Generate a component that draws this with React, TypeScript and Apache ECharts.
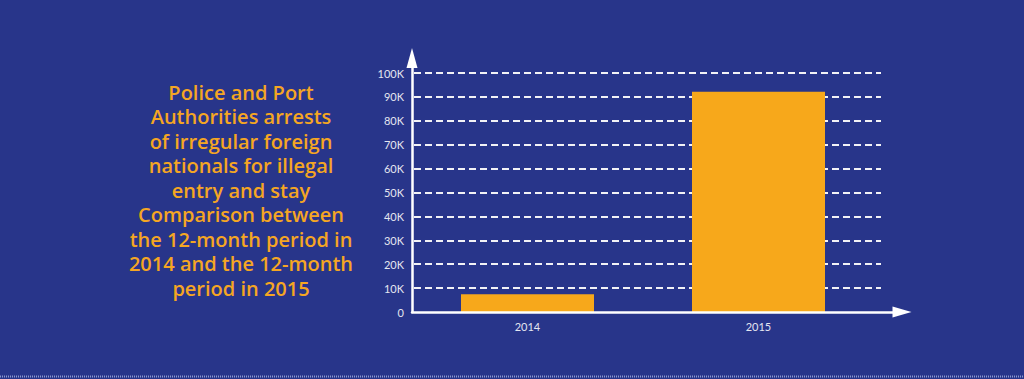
import React, { useEffect, useRef } from "react";
import * as echarts from "echarts";

const categories = ["2014", "2015"];
const arrests = [7400, 92200];
const yTickStep = 10000;
const yAxisTop = 106300;
const titleLines = [
  "Police and Port",
  "Authorities arrests",
  "of irregular foreign",
  "nationals for illegal",
  "entry and stay",
  "Comparison between",
  "the 12-month period in",
  "2014 and the 12-month",
  "period in 2015",
];

const BG = "#28358a";
const ORANGE = "#f7a81b";
const WHITE = "#ffffff";
const LABEL = "#e4e6f0";

export default function App() {
  const ref = useRef<HTMLDivElement>(null);
  useEffect(() => {
    document.body.style.margin = "0";
    const chart = echarts.init(ref.current!, null, { renderer: "svg" });
    const fmt = (v: number) => (v === 0 ? "0" : v / 1000 + "K");
    chart.setOption({
      animation: false,
      backgroundColor: BG,
      grid: [
        { left: 412, right: 122, top: 58, bottom: 67 },
        { left: 414, right: 143, top: 58, bottom: 67 },
        { left: 412, right: 150, top: 58, bottom: 67 },
      ],
      xAxis: [
        {
          gridIndex: 0,
          type: "value",
          min: 0,
          max: 1,
          z: 5,
          axisLine: {
            show: true,
            symbol: ["none", "triangle"],
            symbolSize: [11, 19],
            lineStyle: { color: WHITE, width: 2.5 },
          },
          axisTick: { show: false },
          axisLabel: { show: false },
          splitLine: { show: false },
        },
        {
          gridIndex: 1,
          type: "value",
          min: 0,
          max: 1,
          show: false,
        },
        {
          gridIndex: 2,
          type: "category",
          data: categories,
          axisLine: { show: false },
          axisTick: { show: false },
          axisLabel: {
            color: LABEL,
            fontSize: 11,
            fontFamily: "Lato",
            margin: 9,
          },
          splitLine: { show: false },
        },
      ],
      yAxis: [
        {
          gridIndex: 0,
          type: "value",
          min: 0,
          max: yAxisTop,
          interval: yTickStep,
          z: 5,
          axisLine: {
            show: true,
            symbol: ["none", "triangle"],
            symbolSize: [11, 20],
            lineStyle: { color: WHITE, width: 2.5 },
          },
          axisTick: { show: false },
          axisLabel: {
            color: LABEL,
            fontSize: 11,
            fontFamily: "Lato",
            margin: 8,
            showMaxLabel: false,
            formatter: fmt,
          },
          splitLine: { show: false },
        },
        {
          gridIndex: 1,
          type: "value",
          min: 0,
          max: yAxisTop,
          interval: yTickStep,
          axisLine: { show: false },
          axisTick: { show: false },
          axisLabel: { show: false },
          splitLine: {
            show: true,
            showMinLine: false,
            showMaxLine: false,
            lineStyle: { color: "#f2f2f6", width: 2, type: [7, 4] },
          },
        },
        {
          gridIndex: 2,
          type: "value",
          min: 0,
          max: yAxisTop,
          interval: yTickStep,
          show: false,
        },
      ],
      series: [
        {
          type: "bar",
          xAxisIndex: 2,
          yAxisIndex: 2,
          data: arrests,
          barWidth: 133,
          itemStyle: { color: ORANGE },
          z: 2,
        },
      ],
      graphic: [
        {
          type: "text",
          x: 241,
          y: 80,
          style: {
            text: titleLines.join("\n"),
            fill: "#f5a623",
            fontSize: 20,
            fontWeight: 600,
            fontFamily: "Open Sans",
            lineHeight: 24.5,
            align: "center",
            verticalAlign: "top",
          },
        },
        {
          type: "line",
          shape: { x1: 0, y1: 376.5, x2: 1024, y2: 376.5 },
          style: { stroke: "#8c98cf", lineWidth: 2, lineDash: [1, 1] },
        },
      ],
    });
    return () => chart.dispose();
  }, []);
  return <div ref={ref} style={{ width: 1024, height: 379 }} />;
}
